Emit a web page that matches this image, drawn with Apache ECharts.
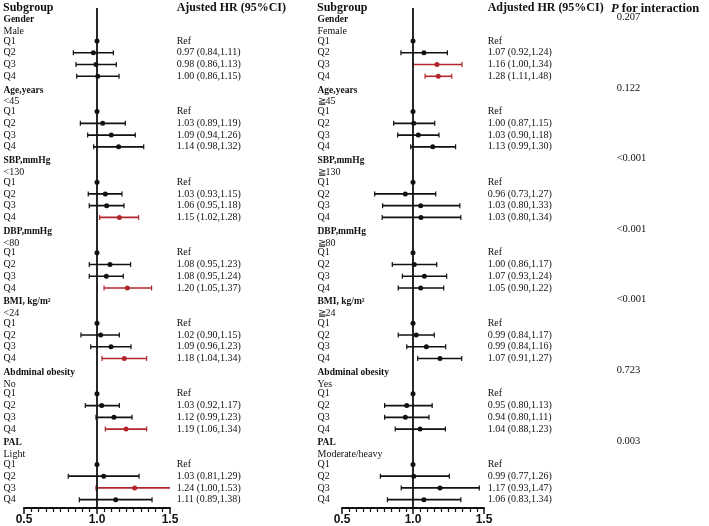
<!DOCTYPE html>
<html>
<head>
<meta charset="utf-8">
<script src="https://cdn.jsdelivr.net/npm/echarts@6/dist/echarts.min.js"></script>
<style>html,body{margin:0;padding:0;background:#fff}#c{width:709px;height:526px}</style>
</head>
<body>
<div id="c"></div>
<script>
// ---------- data ----------
const groupNames = ['Gender', 'Age,years', 'SBP,mmHg', 'DBP,mmHg', 'BMI, kg/m\u00B2', 'Abdminal obesity', 'PAL'];
const leftLevels = ['Male', '<45', '<130', '<80', '<24', 'No', 'Light'];
const rightLevels = ['Female', '\u226745', '\u2267130', '\u226780', '\u226724', 'Yes', 'Moderate/heavy'];
const quartiles = ['Q1', 'Q2', 'Q3', 'Q4'];

const leftHRText = [
  ['Ref', '0.97 (0.84,1.11)', '0.98 (0.86,1.13)', '1.00 (0.86,1.15)'],
  ['Ref', '1.03 (0.89,1.19)', '1.09 (0.94,1.26)', '1.14 (0.98,1.32)'],
  ['Ref', '1.03 (0.93,1.15)', '1.06 (0.95,1.18)', '1.15 (1.02,1.28)'],
  ['Ref', '1.08 (0.95,1.23)', '1.08 (0.95,1.24)', '1.20 (1.05,1.37)'],
  ['Ref', '1.02 (0.90,1.15)', '1.09 (0.96,1.23)', '1.18 (1.04,1.34)'],
  ['Ref', '1.03 (0.92,1.17)', '1.12 (0.99,1.23)', '1.19 (1.06,1.34)'],
  ['Ref', '1.03 (0.81,1.29)', '1.24 (1.00,1.53)', '1.11 (0.89,1.38)']
];
const rightHRText = [
  ['Ref', '1.07 (0.92,1.24)', '1.16 (1.00,1.34)', '1.28 (1.11,1.48)'],
  ['Ref', '1.00 (0.87,1.15)', '1.03 (0.90,1.18)', '1.13 (0.99,1.30)'],
  ['Ref', '0.96 (0.73,1.27)', '1.03 (0.80,1.33)', '1.03 (0.80,1.34)'],
  ['Ref', '1.00 (0.86,1.17)', '1.07 (0.93,1.24)', '1.05 (0.90,1.22)'],
  ['Ref', '0.99 (0.84,1.17)', '0.99 (0.84,1.16)', '1.07 (0.91,1.27)'],
  ['Ref', '0.95 (0.80,1.13)', '0.94 (0.80,1.11)', '1.04 (0.88,1.23)'],
  ['Ref', '0.99 (0.77,1.26)', '1.17 (0.93,1.47)', '1.06 (0.83,1.34)']
];
const pInteraction = ['0.207', '0.122', '<0.001', '<0.001', '<0.001', '0.723', '0.003'];

// plotted marks (as drawn in the figure), Q2..Q4 per group; Q1 is reference (1.0)
const leftEst = [[0.975, 0.993, 1.005], [1.039, 1.098, 1.148], [1.057, 1.066, 1.153], [1.089, 1.064, 1.208], [1.025, 1.096, 1.187], [1.032, 1.116, 1.199], [1.046, 1.258, 1.128]];
const leftLo  = [[0.838, 0.856, 0.861], [0.886, 0.936, 0.977], [0.940, 0.947, 1.018], [0.947, 0.947, 1.048], [0.890, 0.957, 1.034], [0.920, 0.993, 1.057], [0.803, 0.993, 0.879]];
const leftHi  = [[1.112, 1.132, 1.151], [1.194, 1.262, 1.320], [1.171, 1.185, 1.285], [1.230, 1.180, 1.374], [1.153, 1.233, 1.340], [1.153, 1.240, 1.340], [1.288, 1.530, 1.377]];
const leftSig = [[0, 0, 0], [0, 0, 0], [0, 0, 1], [0, 0, 1], [0, 0, 1], [0, 0, 1], [0, 1, 0]];

const rightEst = [[1.077, 1.169, 1.178], [1.005, 1.037, 1.139], [0.946, 1.054, 1.056], [1.009, 1.080, 1.054], [1.023, 1.094, 1.190], [0.956, 0.946, 1.050], [1.005, 1.190, 1.077]];
const rightLo  = [[0.915, 1.000, 1.085], [0.864, 0.892, 0.984], [0.730, 0.786, 0.783], [0.854, 0.925, 0.896], [0.896, 0.956, 1.033], [0.800, 0.800, 0.875], [0.770, 0.917, 0.820]];
const rightHi  = [[1.242, 1.345, 1.273], [1.153, 1.183, 1.300], [1.160, 1.330, 1.337], [1.167, 1.237, 1.216], [1.150, 1.230, 1.343], [1.135, 1.113, 1.228], [1.256, 1.467, 1.337]];
const rightSig = [[0, 1, 1], [0, 0, 0], [0, 0, 0], [0, 0, 0], [0, 0, 0], [0, 0, 0], [0, 0, 0]];

const xTicks = [0.5, 1.0, 1.5];

// ---------- build rows ----------
const SERIF = "'Liberation Serif','DejaVu Serif',serif";
const SANS = "'Liberation Sans',Arial,sans-serif";
const BLACK = '#111111';
const RED = '#b3262b';

function buildRows(levels, hrText) {
  const labels = [], kinds = [], hr = [], p = [];
  groupNames.forEach((g, gi) => {
    labels.push(g); kinds.push('h'); hr.push(''); p.push(pInteraction[gi]);
    labels.push(levels[gi]); kinds.push('s'); hr.push(''); p.push('');
    quartiles.forEach((q, qi) => {
      labels.push(q); kinds.push('q'); hr.push(hrText[gi][qi]); p.push('');
    });
  });
  return { labels, kinds, hr, p };
}
function buildMarks(est, lo, hi, sig) {
  const out = [];
  groupNames.forEach((g, gi) => {
    const base = gi * 6 + 2;
    out.push([1.0, NaN, NaN, base, 0]);
    for (let k = 0; k < 3; k++) {
      out.push([est[gi][k], lo[gi][k], hi[gi][k], base + 1 + k, sig[gi][k]]);
    }
  });
  return out;
}
const L = buildRows(leftLevels, leftHRText);
const R = buildRows(rightLevels, rightHRText);
const nRows = L.labels.length;

const ROW0 = 17.5, STEP = 11.76; // layout
const plotTop = 8, plotBottomY = 508;
const yMin = (plotTop - ROW0) / STEP, yMax = (plotBottomY - ROW0) / STEP;
const textTop = ROW0 - STEP / 2, textBottom = 526 - (ROW0 + (nRows - 0.5) * STEP);

const panels = [
  { left: 24, right: 709 - 170, rows: L, marks: buildMarks(leftEst, leftLo, leftHi, leftSig), labelX: 3.5, hrX: 176.7, pX: null },
  { left: 342, right: 709 - 484, rows: R, marks: buildMarks(rightEst, rightLo, rightHi, rightSig), labelX: 317.5, hrX: 487.7, pX: 616.7 }
];

const grid = [], xAxis = [], yAxis = [], series = [];
function labelFormatter(kinds) {
  return function (v, idx) {
    if (!v) return '';
    const k = kinds[idx];
    return '{' + k + '|' + v + '}';
  };
}
const richStyles = {
  h: { fontFamily: SERIF, fontSize: 9.5, fontWeight: 'bold', color: BLACK, padding: [4, 0, 0, 0] },
  s: { fontFamily: SERIF, fontSize: 10, color: BLACK, padding: [4, 0, 0, 0] },
  q: { fontFamily: SERIF, fontSize: 10, color: BLACK }
};

panels.forEach((pn, pi) => {
  // plot grid
  const gPlot = grid.length;
  grid.push({ left: pn.left, right: pn.right, top: plotTop, bottom: 526 - plotBottomY, containLabel: false });
  const xPlot = xAxis.length;
  xAxis.push({
    gridIndex: gPlot, type: 'value', position: 'bottom', min: 0.5, max: 1.5, interval: 0.5,
    axisLine: { show: true, onZero: false, lineStyle: { color: BLACK, width: 2 } },
    axisTick: { show: true, length: 6, lineStyle: { color: BLACK, width: 1.5 } },
    minorTick: { show: true, splitNumber: 10, length: 4, lineStyle: { color: BLACK, width: 1.2 } },
    splitLine: { show: false },
    axisLabel: { margin: 6, fontFamily: SANS, fontWeight: 'bold', fontSize: 12, color: BLACK,
      formatter: v => xTicks.indexOf(v) >= 0 ? v.toFixed(1) : '' }
  });
  const yPlot = yAxis.length;
  yAxis.push({ gridIndex: gPlot, type: 'value', inverse: true, min: yMin, max: yMax, show: false });

  series.push({
    type: 'custom', xAxisIndex: xPlot, yAxisIndex: yPlot, clip: true, silent: true,
    data: pn.marks,
    encode: { x: [0, 1, 2], y: 3 },
    renderItem: function (params, api) {
      const row = api.value(3);
      const color = api.value(4) ? RED : BLACK;
      const c = api.coord([api.value(0), row]);
      const children = [];
      const lo = api.value(1), hi = api.value(2);
      if (!isNaN(lo) && !isNaN(hi)) {
        const a = api.coord([lo, row]), b = api.coord([hi, row]);
        children.push({ type: 'line', shape: { x1: a[0], y1: a[1], x2: b[0], y2: b[1] }, style: { stroke: color, lineWidth: 1.6 } });
        children.push({ type: 'line', shape: { x1: a[0], y1: a[1] - 2.5, x2: a[0], y2: a[1] + 2.5 }, style: { stroke: color, lineWidth: 1.2 } });
        children.push({ type: 'line', shape: { x1: b[0], y1: b[1] - 2.5, x2: b[0], y2: b[1] + 2.5 }, style: { stroke: color, lineWidth: 1.2 } });
      }
      children.push({ type: 'circle', shape: { cx: c[0], cy: c[1], r: 2.5 }, style: { fill: color } });
      return { type: 'group', children: children };
    },
    markLine: {
      silent: true, symbol: 'none', label: { show: false },
      lineStyle: { color: BLACK, width: 1.8, type: 'solid' },
      data: [{ xAxis: 1.0 }]
    },
    z: 3
  });

  // text grid
  const gText = grid.length;
  grid.push({ left: pn.left, right: pn.right, top: textTop, bottom: textBottom, containLabel: false });
  const xText = xAxis.length;
  xAxis.push({ gridIndex: gText, type: 'value', min: 0, max: 1, show: false });
  const yL = yAxis.length;
  yAxis.push({
    gridIndex: gText, type: 'category', inverse: true, data: pn.rows.labels, position: 'left',
    axisLine: { show: false }, axisTick: { show: false }, splitLine: { show: false },
    axisLabel: { interval: 0, align: 'left', margin: pn.left - pn.labelX, formatter: labelFormatter(pn.rows.kinds), rich: richStyles }
  });
  const yR = yAxis.length;
  yAxis.push({
    gridIndex: gText, type: 'category', inverse: true, data: pn.rows.hr, position: 'right',
    axisLine: { show: false }, axisTick: { show: false }, splitLine: { show: false },
    axisLabel: { interval: 0, align: 'left', margin: pn.hrX - (709 - pn.right), fontFamily: SERIF, fontSize: 10, color: BLACK }
  });
  let yP = null;
  if (pn.pX !== null) {
    yP = yAxis.length;
    yAxis.push({
      gridIndex: gText, type: 'category', inverse: true, data: pn.rows.p, position: 'right', offset: pn.pX - (709 - pn.right) - 2,
      axisLine: { show: false }, axisTick: { show: false }, splitLine: { show: false },
      axisLabel: { interval: 0, align: 'left', margin: 2, fontFamily: SERIF, fontSize: 10.5, color: BLACK, padding: [3, 0, 0, 0] }
    });
  }
  // anchor series so text axes are rendered
  series.push({ type: 'scatter', xAxisIndex: xText, yAxisIndex: yL, data: [], silent: true });
  series.push({ type: 'scatter', xAxisIndex: xText, yAxisIndex: yR, data: [], silent: true });
  if (yP !== null) series.push({ type: 'scatter', xAxisIndex: xText, yAxisIndex: yP, data: [], silent: true });
});

const headStyle = { fontFamily: SERIF, fontSize: 12, fontWeight: 'bold', color: BLACK };
const option = {
  animation: false,
  backgroundColor: '#ffffff',
  title: [
    { text: 'Subgroup', left: 3, top: 2, padding: 0, textStyle: headStyle },
    { text: 'Ajusted HR (95%CI)', left: 176.7, top: 2, padding: 0, textStyle: headStyle },
    { text: 'Subgroup', left: 317, top: 2, padding: 0, textStyle: headStyle },
    { text: 'Adjusted HR (95%CI)', left: 487.7, top: 2, padding: 0, textStyle: headStyle },
    { text: '{i|P}{n| for interaction}', left: 611, top: 2, padding: 0,
      textStyle: { rich: {
        i: { fontFamily: SERIF, fontSize: 12.5, fontWeight: 'bold', fontStyle: 'italic', color: BLACK },
        n: { fontFamily: SERIF, fontSize: 12.5, fontWeight: 'bold', color: BLACK } } } }
  ],
  grid, xAxis, yAxis, series
};
const chart = echarts.init(document.getElementById('c'), null, { renderer: 'canvas' });
chart.setOption(option);
</script>
</body>
</html>
